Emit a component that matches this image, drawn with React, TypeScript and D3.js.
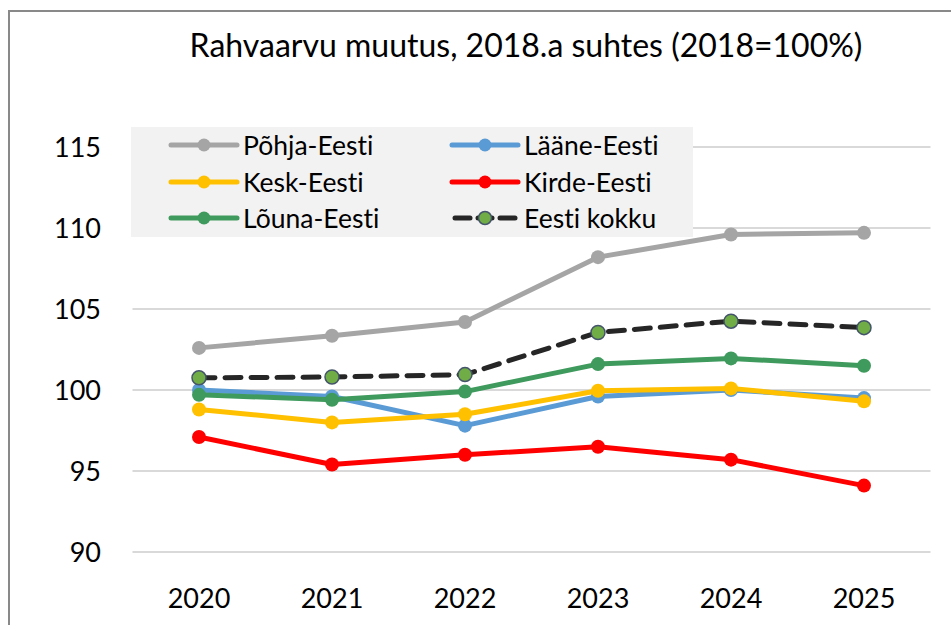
import React from "react";
import * as d3 from "d3";

const years = ["2020", "2021", "2022", "2023", "2024", "2025"];
const yTicks = [90, 95, 100, 105, 110, 115];
const pohja = [102.6, 103.35, 104.2, 108.2, 109.6, 109.7];
const laane = [100.0, 99.6, 97.8, 99.6, 100.0, 99.5];
const kesk = [98.8, 98.0, 98.5, 99.95, 100.1, 99.3];
const kirde = [97.1, 95.4, 96.0, 96.5, 95.7, 94.1];
const louna = [99.7, 99.4, 99.9, 101.6, 101.95, 101.5];
const eesti = [100.75, 100.8, 100.95, 103.55, 104.25, 103.85];

const seriesNames = ["Põhja-Eesti", "Lääne-Eesti", "Kesk-Eesti", "Kirde-Eesti", "Lõuna-Eesti", "Eesti kokku"];

const FONT = "Lato, 'Open Sans', sans-serif";

export default function App() {
  const W = 951, H = 625;
  const x = d3.scaleBand().domain(years).range([132.5, 930.5]);
  const y = d3.scaleLinear().domain([90, 115]).range([552, 147]);
  const cx = (i: number) => (x(years[i]) as number) + x.bandwidth() / 2;
  const line = d3.line<number>().x((_, i) => cx(i)).y((d) => y(d));

  const series = [
    { name: seriesNames[0], data: pohja, color: "#A5A5A5" },
    { name: seriesNames[1], data: laane, color: "#5B9BD5" },
    { name: seriesNames[2], data: kesk, color: "#FFC000" },
    { name: seriesNames[3], data: kirde, color: "#FF0000" },
    { name: seriesNames[4], data: louna, color: "#3F9A5D" },
  ];

  const legendItems = [
    { name: seriesNames[0], color: "#A5A5A5", col: 0, row: 0 },
    { name: seriesNames[1], color: "#5B9BD5", col: 1, row: 0 },
    { name: seriesNames[2], color: "#FFC000", col: 0, row: 1 },
    { name: seriesNames[3], color: "#FF0000", col: 1, row: 1 },
    { name: seriesNames[4], color: "#3F9A5D", col: 0, row: 2 },
  ];
  const colX = [171, 452];
  const rowY = [145, 182, 218];
  const LL = 66;

  return (
    <svg width={W} height={H} style={{ position: "absolute", left: 0, top: 0, fontVariantLigatures: "none", fontFeatureSettings: '"liga" 0' }}>
      <rect x={0} y={0} width={W} height={H} fill="#fff" />
      <path d={`M9,${H} L9,11 L${W},11`} fill="none" stroke="#898989" strokeWidth={2} />
      <text x={526} y={57} textAnchor="middle" fontFamily={FONT} fontSize={32} fill="#000">
        Rahvaarvu muutus, 2018.a suhtes (2018=100%)
      </text>
      {yTicks.map((t) => (
        <g key={t}>
          <line x1={132.5} x2={930.5} y1={y(t)} y2={y(t)} stroke="#D9D9D9" strokeWidth={2} />
          <text x={101} y={y(t)} dy="0.36em" textAnchor="end" fontFamily={FONT} fontSize={27} fill="#000">
            {t}
          </text>
        </g>
      ))}
      {years.map((yr, i) => (
        <text key={yr} x={cx(i)} y={598} dy="0.36em" textAnchor="middle" fontFamily={FONT} fontSize={27} fill="#000">
          {yr}
        </text>
      ))}
      <rect x={131} y={127} width={562} height={110} fill="#F2F2F2" />
      {legendItems.map((it) => (
        <g key={it.name}>
          <line x1={colX[it.col]} x2={colX[it.col] + LL} y1={rowY[it.row]} y2={rowY[it.row]} stroke={it.color} strokeWidth={5} strokeLinecap="round" />
          <circle cx={colX[it.col] + LL / 2} cy={rowY[it.row]} r={6.5} fill={it.color} />
          <text x={colX[it.col] + 72} y={rowY[it.row]} dy="0.36em" fontFamily={FONT} fontSize={26.5} fill="#000">
            {it.name}
          </text>
        </g>
      ))}
      <g>
        <line x1={colX[1] + 3} x2={colX[1] + 18} y1={rowY[2]} y2={rowY[2]} stroke="#262626" strokeWidth={5} strokeLinecap="round" />
        <line x1={colX[1] + 48} x2={colX[1] + 63} y1={rowY[2]} y2={rowY[2]} stroke="#262626" strokeWidth={5} strokeLinecap="round" />
        <line x1={colX[1] + 26} x2={colX[1] + 40} y1={rowY[2]} y2={rowY[2]} stroke="#262626" strokeWidth={5} strokeLinecap="round" />
        <circle cx={colX[1] + LL / 2} cy={rowY[2]} r={6.5} fill="#70AD47" stroke="#44546A" strokeWidth={1.5} />
        <text x={colX[1] + 72} y={rowY[2]} dy="0.36em" fontFamily={FONT} fontSize={26.5} fill="#000">
          {seriesNames[5]}
        </text>
      </g>
      {series.map((s) => (
        <g key={s.name}>
          <path d={line(s.data) as string} fill="none" stroke={s.color} strokeWidth={5} strokeLinejoin="round" />
          {s.data.map((v, i) => (
            <circle key={i} cx={cx(i)} cy={y(v)} r={7} fill={s.color} />
          ))}
        </g>
      ))}
      <g>
        <path d={line(eesti) as string} fill="none" stroke="#262626" strokeWidth={5} strokeDasharray="16 10" strokeLinecap="round" />
        {eesti.map((v, i) => (
          <circle key={i} cx={cx(i)} cy={y(v)} r={7} fill="#70AD47" stroke="#44546A" strokeWidth={1.5} />
        ))}
      </g>
    </svg>
  );
}
